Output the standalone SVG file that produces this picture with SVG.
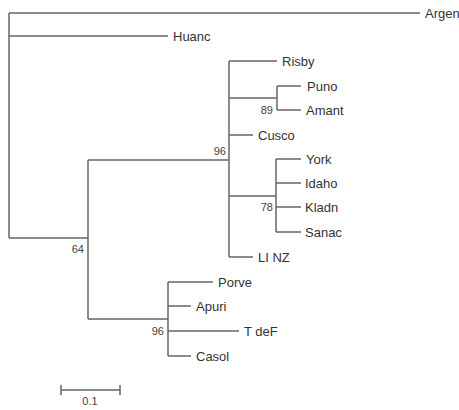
<svg xmlns="http://www.w3.org/2000/svg" width="459" height="410" viewBox="0 0 459 410">
<style>
.br{stroke:#666;stroke-width:1.5;fill:none}
.lb{font-family:"Liberation Sans",Arial,sans-serif;font-size:13px;fill:#333}
.bs{font-family:"Liberation Sans",Arial,sans-serif;font-size:11px;fill:#444;text-anchor:end}
</style>
<rect width="459" height="410" fill="#fff"/>
<g id="connectors" class="br">
<path d="M9,13V238"/>
<path d="M9,13H420"/>
<path d="M9,36H168"/>
<path d="M9,238H88"/>
<path d="M88,160V319"/>
<path d="M88,160H229"/>
<path d="M229,61V257"/>
<path d="M229,61H277"/>
<path d="M229,98H277"/>
<path d="M277,86V110"/>
<path d="M277,86H301"/>
<path d="M277,110H301"/>
<path d="M229,135H253"/>
<path d="M229,196H276"/>
<path d="M276,159V232"/>
<path d="M276,159H301"/>
<path d="M276,183H301"/>
<path d="M276,207H301"/>
<path d="M276,232H301"/>
<path d="M229,257H253"/>
<path d="M88,319H168"/>
<path d="M168,282V356"/>
<path d="M168,282H213"/>
<path d="M168,306H191"/>
<path d="M168,331H239"/>
<path d="M168,356H191"/>
</g>
<g id="Argen"><text class="lb" x="425" y="17.5">Argen</text></g>
<g id="Huanc"><text class="lb" x="173" y="40.5">Huanc</text></g>
<g id="Risby"><text class="lb" x="282" y="65.5">Risby</text></g>
<g id="Puno"><text class="lb" x="307" y="90.5">Puno</text></g>
<g id="Amant"><text class="lb" x="306" y="114.5">Amant</text></g>
<g id="Cusco"><text class="lb" x="258" y="139.5">Cusco</text></g>
<g id="York"><text class="lb" x="306" y="163.5">York</text></g>
<g id="Idaho"><text class="lb" x="305" y="187.5">Idaho</text></g>
<g id="Kladn"><text class="lb" x="305" y="211.5">Kladn</text></g>
<g id="Sanac"><text class="lb" x="305" y="236.5">Sanac</text></g>
<g id="LINZ"><text class="lb" x="258" y="261.5">LI NZ</text></g>
<g id="Porve"><text class="lb" x="218" y="286.5">Porve</text></g>
<g id="Apuri"><text class="lb" x="196" y="310.5">Apuri</text></g>
<g id="TdeF"><text class="lb" x="244" y="335.5">T deF</text></g>
<g id="Casol"><text class="lb" x="196" y="360.5">Casol</text></g>
<g id="bootstrap">
<text class="bs" x="226" y="155">96</text>
<text class="bs" x="273" y="114">89</text>
<text class="bs" x="273" y="211">78</text>
<text class="bs" x="84" y="253">64</text>
<text class="bs" x="164" y="335">96</text>
</g>
<g id="scale">
<path class="br" d="M61,390H120M61,385V395M120,385V395"/>
<text x="90" y="405" style="font-family:'Liberation Sans',Arial,sans-serif;font-size:11px;fill:#444;text-anchor:middle">0.1</text>
</g>
</svg>
